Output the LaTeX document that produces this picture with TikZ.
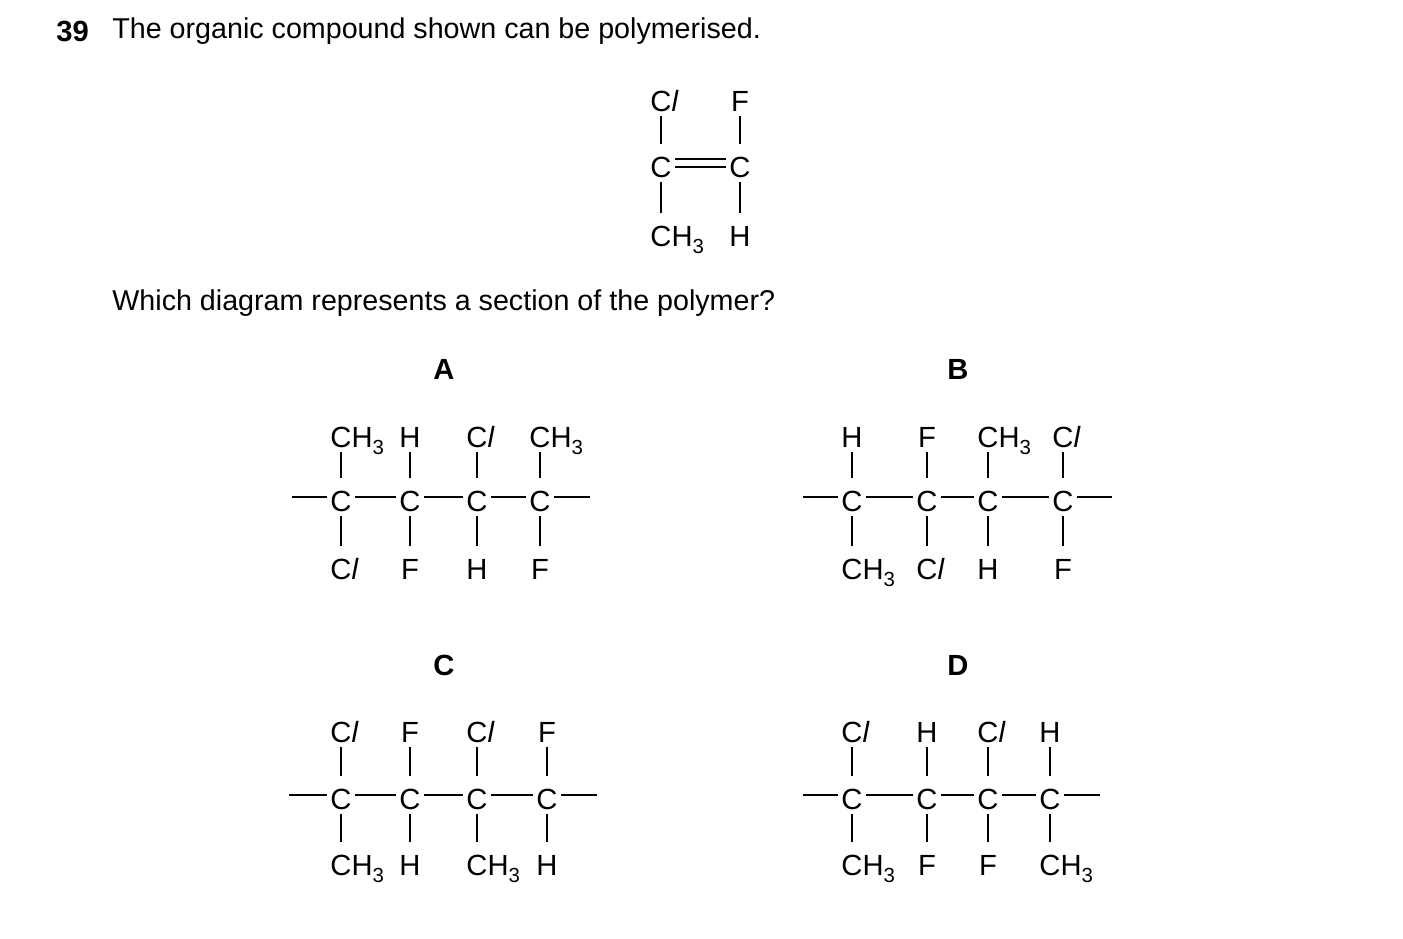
\documentclass[tikz,border=0pt]{standalone}
\usepackage{fontspec}
\setmainfont{Liberation Sans}
\newcommand{\atomfont}{\fontsize{8.3}{10}\selectfont}
\newcommand{\chm}{C\rlap{H\raisebox{-0.45ex}{\fontsize{5.8}{6}\selectfont 3}}}
\newcommand{\clr}{C\rlap{\textit{l}}}
\tikzset{
  atom/.style={font=\atomfont, inner xsep=0.8pt, inner ysep=1pt, text height=1.6ex, text depth=0pt},
  bond/.style={line width=0.7pt},
  lbl/.style={font=\fontsize{8.3}{10}\selectfont\bfseries}
}
\begin{document}
\begin{tikzpicture}[x=0.01cm,y=-0.01cm]
  \useasboundingbox (0,0) rectangle (1403,938);
  \node[lbl,anchor=west] (num) at (44,31) {39};
  \node[font=\fontsize{8.15}{10}\selectfont,anchor=west] (q1) at (100,31) {The organic compound shown can be polymerised.};
  \node[font=\fontsize{8.15}{10}\selectfont,anchor=west] (q2) at (100,303) {Which diagram represents a section of the polymer?};

  % monomer
  \node[atom] (M1) at (661,163) {C};
  \node[atom] (M2) at (740,163) {C};
  \node[atom] (Mt1) at (661,97) {\clr};
  \node[atom] (Mt2) at (740,97) {F};
  \node[atom] (Mb1) at (661,232) {\chm};
  \node[atom] (Mb2) at (740,232) {H};
  \draw[bond] ([yshift=1.1pt]M1.east) -- ([yshift=1.1pt]M2.west);
  \draw[bond] ([yshift=-1.1pt]M1.east) -- ([yshift=-1.1pt]M2.west);
  \foreach \i in {1,2} {
    \draw[bond] (M\i) -- (Mt\i);
    \draw[bond] (M\i) -- (Mb\i);
  }

  % A
  \node[lbl] (la) at (444,369) {A};
  \foreach \x/\t/\b [count=\i] in {341/\chm/\clr, 410/H/F, 477/\clr/H, 540/\chm/F} {
    \node[atom] (A\i) at (\x,497) {C};
    \node[atom] (At\i) at (\x,433) {\t};
    \node[atom] (Ab\i) at (\x,565) {\b};
    \draw[bond] (A\i) -- (At\i);
    \draw[bond] (A\i) -- (Ab\i);
  }
  \coordinate (Al) at (292,497);
  \coordinate (Ar) at (590,497);
  \draw[bond] (Al) -- (A1) -- (A2) -- (A3) -- (A4) -- (Ar);

  % B
  \node[lbl] (lb) at (958,369) {B};
  \foreach \x/\t/\b [count=\i] in {852/H/\chm, 927/F/\clr, 988/\chm/H, 1063/\clr/F} {
    \node[atom] (B\i) at (\x,497) {C};
    \node[atom] (Bt\i) at (\x,433) {\t};
    \node[atom] (Bb\i) at (\x,565) {\b};
    \draw[bond] (B\i) -- (Bt\i);
    \draw[bond] (B\i) -- (Bb\i);
  }
  \coordinate (Bl) at (803,497);
  \coordinate (Br) at (1112,497);
  \draw[bond] (Bl) -- (B1) -- (B2) -- (B3) -- (B4) -- (Br);

  % C
  \node[lbl] (lc) at (444,665) {C};
  \foreach \x/\t/\b [count=\i] in {341/\clr/\chm, 410/F/H, 477/\clr/\chm, 547/F/H} {
    \node[atom] (C\i) at (\x,795) {C};
    \node[atom] (Ct\i) at (\x,728) {\t};
    \node[atom] (Cb\i) at (\x,861) {\b};
    \draw[bond] (C\i) -- (Ct\i);
    \draw[bond] (C\i) -- (Cb\i);
  }
  \coordinate (Cl) at (289,795);
  \coordinate (Cr) at (597,795);
  \draw[bond] (Cl) -- (C1) -- (C2) -- (C3) -- (C4) -- (Cr);

  % D
  \node[lbl] (ld) at (958,665) {D};
  \foreach \x/\t/\b [count=\i] in {852/\clr/\chm, 927/H/F, 988/\clr/F, 1050/H/\chm} {
    \node[atom] (D\i) at (\x,795) {C};
    \node[atom] (Dt\i) at (\x,728) {\t};
    \node[atom] (Db\i) at (\x,861) {\b};
    \draw[bond] (D\i) -- (Dt\i);
    \draw[bond] (D\i) -- (Db\i);
  }
  \coordinate (Dl) at (803,795);
  \coordinate (Dr) at (1100,795);
  \draw[bond] (Dl) -- (D1) -- (D2) -- (D3) -- (D4) -- (Dr);
\end{tikzpicture}
\end{document}
